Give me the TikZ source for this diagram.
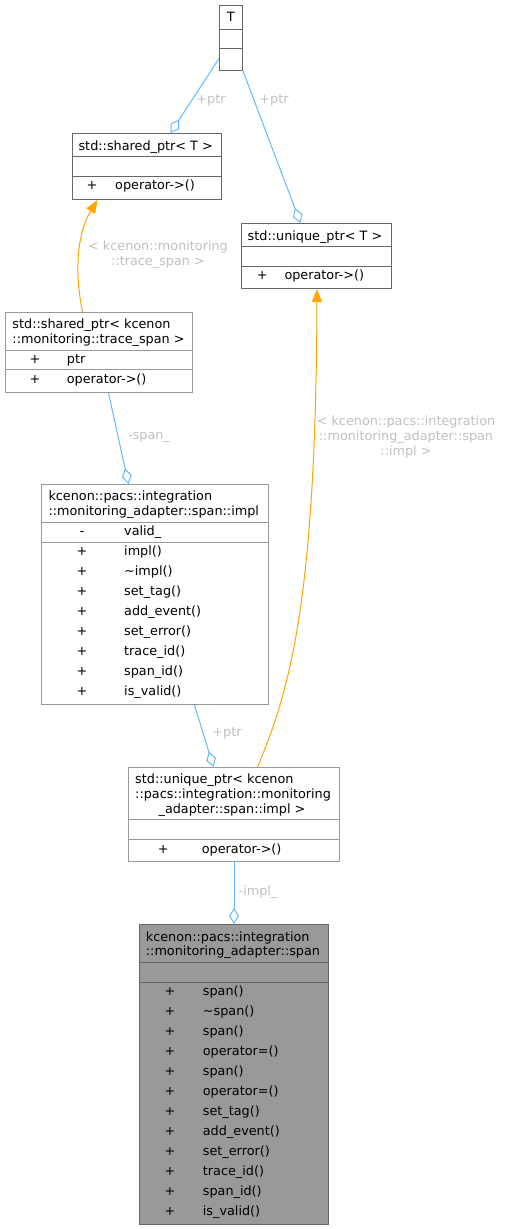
\documentclass[tikz,border=0pt]{standalone}
\usepackage{fontspec}
\setmainfont{DejaVu Sans}
\usetikzlibrary{arrows.meta}

\definecolor{edgeblue}{HTML}{63B8FF}
\definecolor{edgeorange}{HTML}{FFA500}
\definecolor{lblgrey}{HTML}{C0C0C0}
\definecolor{boxdark}{HTML}{666666}
\definecolor{boxlight}{HTML}{999999}

\tikzset{
  txt/.style={inner sep=0pt, font=\fontsize{12.8}{15}\selectfont},
  member/.style={txt, anchor=base west},
  vis/.style={txt, anchor=base},
  lbl/.style={txt, text=lblgrey, align=center},
  box/.style={draw=boxdark, line width=1pt, inner sep=0pt, anchor=north west},
  lightbox/.style={box, draw=boxlight},
  aggr/.style={edgeblue, line width=1pt, -{Diamond[open, length=16pt, width=10pt]}},
  inherit/.style={edgeorange, line width=1pt, -{Triangle[length=13pt, width=10pt]}}
}

\begin{document}
\begin{tikzpicture}[x=1pt, y=-1pt]
\useasboundingbox (0,0) rectangle (504,1229);

% template parameter
\node[box, minimum width=23pt, minimum height=65pt] (T) at (219,5) {};
\draw[boxdark, line width=1pt] (219,29) -- (242,29) (219,48) -- (242,48);
\node[vis] (Tname) at (230.7,21.4) {T};

% std::shared_ptr< T >
\node[box, minimum width=149pt, minimum height=66pt] (sharedT) at (72,133) {};
\draw[boxdark, line width=1pt] (72,156) -- (221,156) (72,176) -- (221,176);
\node[vis] (sharedTname) at (145.7,150) {std::shared\_ptr< T >};
\node[vis] (sharedTp) at (92,189.7) {+};
\node[member] (sharedTm) at (115,189.7) {operator->()};

% std::unique_ptr< T >
\node[box, minimum width=150pt, minimum height=65pt] (uniqueT) at (241,223) {};
\draw[boxdark, line width=1pt] (241,246) -- (391,246) (241,266) -- (391,266);
\node[vis] (uniqueTname) at (315,240) {std::unique\_ptr< T >};
\node[vis] (uniqueTp) at (262.3,279.7) {+};
\node[member] (uniqueTm) at (284.3,279.7) {operator->()};

% std::shared_ptr< trace_span >
\node[lightbox, minimum width=187pt, minimum height=80pt] (sharedK) at (5,312) {};
\draw[boxlight, line width=1pt] (5,350) -- (192,350) (5,369) -- (192,369);
\node[member] (sharedKa) at (12.3,328) {std::shared\_ptr< kcenon};
\node[member] (sharedKb) at (12.3,343) {::monitoring::trace\_span >};
\node[vis] (sharedKp1) at (35,363.4) {+};
\node[member] (sharedKm1) at (66.7,363.4) {ptr};
\node[vis] (sharedKp2) at (35,383.4) {+};
\node[member] (sharedKm2) at (66.7,383.4) {operator->()};

% span::impl
\node[lightbox, minimum width=227pt, minimum height=220pt] (impl) at (41,484) {};
\draw[boxlight, line width=1pt] (41,522) -- (268,522) (41,542) -- (268,542);
\node[member] (impla) at (48.3,500.7) {kcenon::pacs::integration};
\node[member] (implb) at (48.3,515.4) {::monitoring\_adapter::span::impl};
\node[vis] (implp0) at (82,535.4) {-};
\node[member] (implm0) at (124,535.4) {valid\_};
\foreach \m [count=\i from 0] in {impl(), \textasciitilde impl(), set\_tag(), add\_event(),
    set\_error(), trace\_id(), span\_id(), is\_valid()} {
  \node[vis] (implp\i) at (82,555.4+20*\i) {+};
  \node[member] (implf\i) at (124,555.4+20*\i) {\m};
}

% std::unique_ptr< span::impl >
\node[lightbox, minimum width=211pt, minimum height=94pt] (uniqueK) at (128,767) {};
\draw[boxlight, line width=1pt] (128,819) -- (339,819) (128,839) -- (339,839);
\node[member] (uniqueKa) at (135,783.4) {std::unique\_ptr< kcenon};
\node[member] (uniqueKb) at (135,798) {::pacs::integration::monitoring};
\node[vis] (uniqueKc) at (232,813) {\_adapter::span::impl >};
\node[vis] (uniqueKp) at (163.3,853) {+};
\node[member] (uniqueKm) at (201.7,853) {operator->()};

% span
\node[box, fill=boxlight, minimum width=189pt, minimum height=300pt] (span) at (139,924) {};
\draw[boxdark, line width=1pt] (139,962) -- (328,962) (139,982) -- (328,982);
\node[member] (spana) at (145.7,941.4) {kcenon::pacs::integration};
\node[member] (spanb) at (145.7,955.4) {::monitoring\_adapter::span};
\foreach \m [count=\i from 0] in {span(), \textasciitilde span(), span(), operator=(), span(),
    operator=(), set\_tag(), add\_event(), set\_error(), trace\_id(), span\_id(), is\_valid()} {
  \node[vis] (spanp\i) at (170,995.4+20*\i) {+};
  \node[member] (spanf\i) at (202.7,995.4+20*\i) {\m};
}

% connectors
\draw[aggr] ([yshift=-20.5pt]T.west) -- ([xshift=23.5pt]sharedT.north);
\node[lbl] (lptrA) at (211,100) {+ptr};
\draw[aggr] (T.south east) -- ([xshift=-16pt]uniqueT.north);
\node[lbl] (lptrB) at (274,100) {+ptr};

\draw[inherit] ([xshift=-16.5pt]sharedK.north) .. controls (75,275) and (76,235) .. ([xshift=-49.5pt]sharedT.south);
\node[lbl] (ltrace) at (158,254.5) {< kcenon::monitoring\\::trace\_span >};

\draw[aggr] ([xshift=9.5pt]sharedK.south) -- ([xshift=-26.5pt]impl.north);
\node[lbl] (lspan) at (149,437) {-span\_};

\draw[inherit] ([xshift=23.5pt]uniqueK.north) .. controls (290,690) and (316,600) .. ([xshift=0.5pt]uniqueT.south);
\node[lbl] (limpl) at (406,437) {< kcenon::pacs::integration\\::monitoring\_adapter::span\\::impl >};

\draw[aggr] ([xshift=39.5pt]impl.south) -- ([xshift=-20.5pt]uniqueK.north);
\node[lbl] (lptrC) at (227,733) {+ptr};

\draw[aggr] (uniqueK.south) -- (span.north);
\node[lbl] (limpl2) at (258,892) {-impl\_};

\end{tikzpicture}
\end{document}
